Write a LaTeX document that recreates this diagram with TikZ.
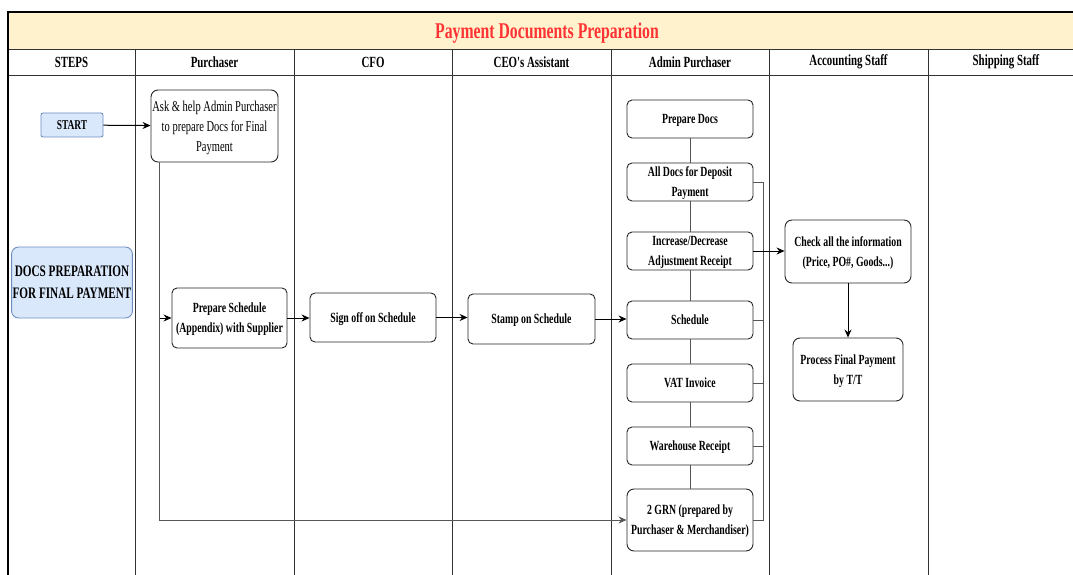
\documentclass[tikz,border=0pt]{standalone}
\usepackage{fontspec}
\setmainfont{Liberation Serif}
\newfontfamily\cond[FakeStretch=0.7]{Liberation Serif}
\usetikzlibrary{arrows.meta,calc}
\definecolor{titlefill}{HTML}{FFF2CC}
\definecolor{titlered}{HTML}{FF3333}
\definecolor{bluefill}{HTML}{DAE8FC}
\definecolor{blueline}{HTML}{6C8EBF}
\definecolor{laneline}{HTML}{333333}
\definecolor{linkgray}{HTML}{555555}
\tikzset{
  box/.style={draw=black!85, line width=0.9pt, rounded corners=5pt, fill=white,
    align=center, inner sep=1pt, text depth=0pt,
    font=\cond\bfseries\fontsize{14}{20}\selectfont},
  bluebox/.style={box, draw=blueline, fill=bluefill},
  lane/.style={draw=laneline, line width=0.8pt},
  flow/.style={draw=black, line width=1pt, -{Stealth[length=8pt,width=7pt]}},
  link/.style={draw=linkgray, line width=0.9pt},
  hdr/.style={font=\cond\bfseries\fontsize{15.5}{18}\selectfont, anchor=center},
}
\begin{document}
\begin{tikzpicture}[x=1pt,y=-1pt]
\useasboundingbox (0,0) rectangle (1073,575);
\begin{scope}
\clip (0,0) rectangle (1073,575);
% title band and header row
\fill[titlefill] (8,12) rectangle (1090,49);
\draw[lane] (8,49) -- (1090,49);
\draw[lane] (8,75) -- (1090,75);
\foreach \x in {135,294,452,611,769,928} {
  \draw[lane] (\x,49) -- (\x,590);
}
\draw[black, line width=2.2pt] (8,590) -- (8,12) -- (1090,12);
\end{scope}

\node[font=\cond\bfseries\fontsize{22.5}{26}\selectfont, text=titlered] (title) at (547,33.5) {Payment Documents Preparation};

\node[hdr] (hsteps) at (71.5,62) {STEPS};
\node[hdr] (hpur) at (214.5,62) {Purchaser};
\node[hdr] (hcfo) at (373,62) {CFO};
\node[hdr] (hceo) at (531.5,62) {CEO's Assistant};
\node[hdr] (hadm) at (690,62) {Admin Purchaser};
\node[hdr] (hacc) at (848.5,62) {Accounting Staff};
\node[hdr] (hship) at (1006,62) {Shipping Staff};

% steps column
\node[bluebox, rounded corners=2pt, minimum width=62pt, minimum height=24pt,
  font=\cond\bfseries\fontsize{13.5}{16}\selectfont] (start) at (72,125) {START};
\node[bluebox, rounded corners=7pt, minimum width=118pt, minimum height=71pt,
  font=\cond\bfseries\fontsize{16}{22}\selectfont] (docs) at (72,282.5) {DOCS PREPARATION\\FOR FINAL PAYMENT};

% purchaser, CFO and CEO's assistant
\node[box, rounded corners=7pt, minimum width=127pt, minimum height=72pt,
  font=\cond\fontsize{15}{20}\selectfont] (ask) at (214.5,126)
  {Ask \& help Admin Purchaser\\to prepare Docs for Final\\Payment};
\node[box, minimum width=115pt, minimum height=60pt] (prep) at (229.5,318)
  {Prepare Schedule\\(Appendix) with Supplier};
\node[box, minimum width=126pt, minimum height=49pt] (sign) at (373,317.5) {Sign off on Schedule};
\node[box, minimum width=127pt, minimum height=50pt] (stamp) at (531.5,319) {Stamp on Schedule};

% admin purchaser documents
\node[box, minimum width=126pt, minimum height=38pt] (pdocs) at (690,119) {Prepare Docs};
\node[box, minimum width=126pt, minimum height=38pt] (alldep) at (690,182) {All Docs for Deposit\\Payment};
\node[box, minimum width=126pt, minimum height=38pt] (incdec) at (690,251) {Increase/Decrease\\Adjustment Receipt};
\node[box, minimum width=126pt, minimum height=38pt] (sched) at (690,320) {Schedule};
\node[box, minimum width=126pt, minimum height=38pt] (vat) at (690,383) {VAT Invoice};
\node[box, minimum width=126pt, minimum height=38pt] (wh) at (690,446) {Warehouse Receipt};
\node[box, rounded corners=7pt, minimum width=126pt, minimum height=62pt] (grn) at (690,520)
  {2 GRN (prepared by\\Purchaser \& Merchandiser)};

% accounting staff
\node[box, rounded corners=7pt, minimum width=126pt, minimum height=63pt] (check) at (848,251.5)
  {Check all the information\\(Price, PO\#, Goods...)};
\node[box, rounded corners=7pt, minimum width=110pt, minimum height=63pt] (proc) at (848,369.5)
  {Process Final Payment\\by T/T};

% chain of documents
\draw[link] (pdocs) -- (alldep);
\draw[link] (alldep) -- (incdec);
\draw[link] (incdec) -- (sched);
\draw[link] (sched) -- (vat);
\draw[link] (vat) -- (wh);
\draw[link] (wh) -- (grn);

% collecting bus on the right of the documents
\draw[link] (alldep.east) -- ++(10,0) coordinate (bustop) |- (grn.east);
\draw[link] (sched.east) -- (sched.east -| bustop);
\draw[link] (vat.east) -- (vat.east -| bustop);
\draw[link] (wh.east) -- (wh.east -| bustop);

% main flow
\draw[flow] (start) -- (ask);
\coordinate (askfoot) at ([xshift=9pt]ask.south west);
\draw[flow, draw=linkgray] (askfoot) |- (grn.west);
\draw[flow] (askfoot |- prep.west) -- (prep.west);
\draw[flow] (prep.east) -- (sign.west |- prep.east);
\draw[flow] (sign.east) -- (stamp.west |- sign.east);
\draw[flow] (stamp.east) -- (sched.west |- stamp.east);
\draw[flow] (incdec.east) -- (check.west |- incdec.east);
\draw[flow] (check) -- (proc);
\end{tikzpicture}
\end{document}
